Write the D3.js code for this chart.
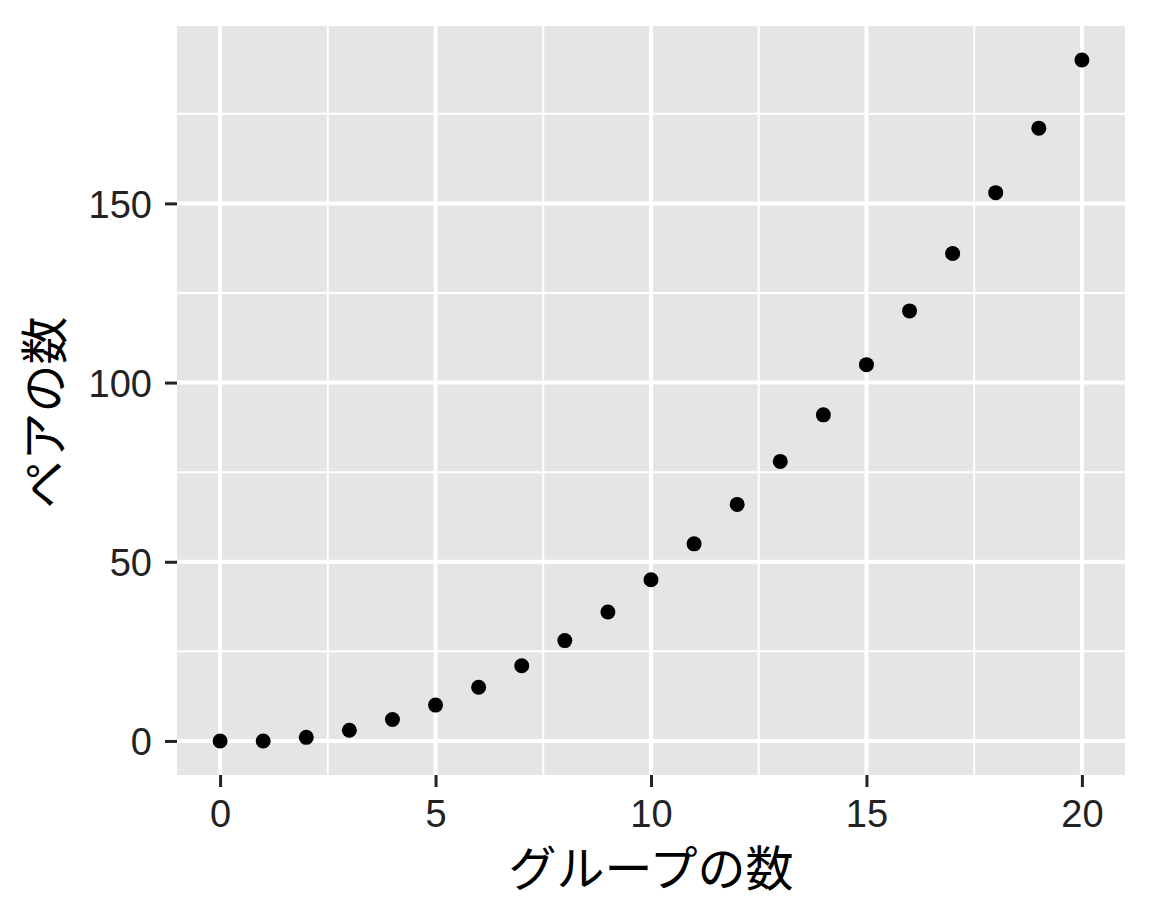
<!DOCTYPE html>
<html>
<head>
<meta charset="utf-8">
<script src="https://cdn.jsdelivr.net/npm/d3@7"></script>
<style>
  body { margin: 0; background: #fff; }
  text { font-family: "Liberation Sans", Arial, "Noto Sans CJK JP", sans-serif; }
</style>
</head>
<body>
<div id="chart"></div>
<script>
// data
var groups = [0, 1, 2, 3, 4, 5, 6, 7, 8, 9, 10, 11, 12, 13, 14, 15, 16, 17, 18, 19, 20];
var pairs = [0, 0, 1, 3, 6, 10, 15, 21, 28, 36, 45, 55, 66, 78, 91, 105, 120, 136, 153, 171, 190];
var xTicks = [0, 5, 10, 15, 20];
var yTicks = [0, 50, 100, 150];
var xTitle = "グループの数";
var yTitle = "ペアの数";

var svgWidth = 1152;
var svgHeight = 922;

var margin = { top: 26, right: 27, bottom: 147, left: 177 };
var width = svgWidth - margin.left - margin.right;
var height = svgHeight - margin.top - margin.bottom;

var svg = d3.select("#chart")
    .append("svg")
    .attr("width", svgWidth)
    .attr("height", svgHeight);

var chartGroup = svg.append("g")
    .attr("transform", `translate(${margin.left},${margin.top})`);

// ggplot style 5% expansion
var xSpan = d3.max(groups) - d3.min(groups);
var ySpan = d3.max(pairs) - d3.min(pairs);
var xScale = d3.scaleLinear()
    .domain([d3.min(groups) - xSpan * 0.05, d3.max(groups) + xSpan * 0.05])
    .range([0, width]);
var yScale = d3.scaleLinear()
    .domain([d3.min(pairs) - ySpan * 0.05, d3.max(pairs) + ySpan * 0.05])
    .range([height, 0]);

// panel background
chartGroup.append("rect")
    .attr("width", width)
    .attr("height", height)
    .attr("fill", "#e5e5e5");

// minor grid (midpoints between major ticks)
var xMinor = [2.5, 7.5, 12.5, 17.5];
var yMinor = [25, 75, 125, 175];

chartGroup.selectAll(".xminor").data(xMinor).enter().append("line")
    .attr("x1", d => xScale(d)).attr("x2", d => xScale(d))
    .attr("y1", 0).attr("y2", height)
    .attr("stroke", "#fff").attr("stroke-width", 2);
chartGroup.selectAll(".yminor").data(yMinor).enter().append("line")
    .attr("y1", d => yScale(d)).attr("y2", d => yScale(d))
    .attr("x1", 0).attr("x2", width)
    .attr("stroke", "#fff").attr("stroke-width", 2);

// major grid
chartGroup.selectAll(".xmajor").data(xTicks).enter().append("line")
    .attr("x1", d => xScale(d)).attr("x2", d => xScale(d))
    .attr("y1", 0).attr("y2", height)
    .attr("stroke", "#fff").attr("stroke-width", 4);
chartGroup.selectAll(".ymajor").data(yTicks).enter().append("line")
    .attr("y1", d => yScale(d)).attr("y2", d => yScale(d))
    .attr("x1", 0).attr("x2", width)
    .attr("stroke", "#fff").attr("stroke-width", 4);

// axes
var bottomAxis = d3.axisBottom(xScale).tickValues(xTicks).tickSize(12);
var leftAxis = d3.axisLeft(yScale).tickValues(yTicks).tickSize(12).tickPadding(13);

var xAxis = chartGroup.append("g")
    .attr("transform", `translate(0,${height})`)
    .call(bottomAxis);
var yAxis = chartGroup.append("g")
    .call(leftAxis);

[xAxis, yAxis].forEach(function(ax) {
    ax.select(".domain").remove();
    ax.selectAll(".tick line").attr("stroke", "#222").attr("stroke-width", 3);
    ax.selectAll(".tick text")
        .attr("fill", "#222")
        .style("font-size", "38px");
});
xAxis.selectAll(".tick text").attr("y", 52).attr("dy", 0);
yAxis.selectAll(".tick text").attr("dy", "0.36em");

// points
chartGroup.selectAll("circle")
    .data(groups)
    .enter()
    .append("circle")
    .attr("cx", (d, i) => xScale(d))
    .attr("cy", (d, i) => yScale(pairs[i]))
    .attr("r", 7.5)
    .attr("fill", "#000");

// axis titles
svg.append("text")
    .attr("x", margin.left + width / 2)
    .attr("y", 886)
    .attr("text-anchor", "middle")
    .style("font-size", "48px")
    .attr("fill", "#000")
    .text(xTitle);

svg.append("text")
    .attr("transform", `translate(62,${margin.top + height / 2 + 12}) rotate(-90)`)
    .attr("text-anchor", "middle")
    .style("font-size", "48px")
    .attr("fill", "#000")
    .text(yTitle);
</script>
</body>
</html>
